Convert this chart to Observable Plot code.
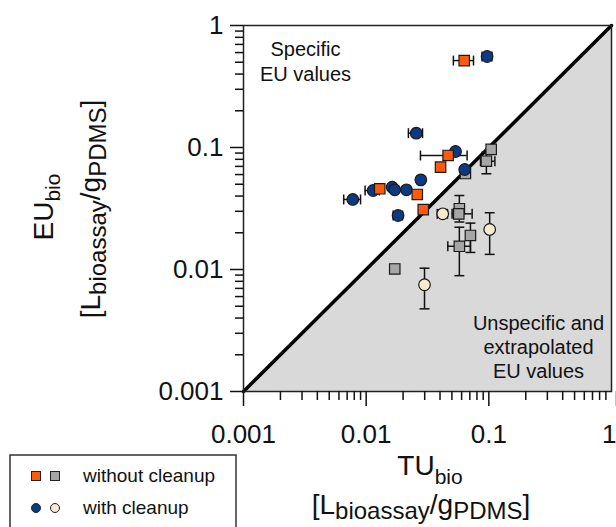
<!DOCTYPE html>
<html><head><meta charset="utf-8">
<script src="https://cdn.jsdelivr.net/npm/d3@7"></script>
<script src="https://cdn.jsdelivr.net/npm/@observablehq/plot@0.6"></script>
<style>body{margin:0;background:#fff;} svg{display:block}</style>
</head><body><div id="chart"></div>
<script>
// group of each point: "woSpec" orange square, "woUns" gray square, "wSpec" blue circle, "wUns" beige circle
const group = ["woSpec","wSpec","wSpec","wSpec","woSpec","woSpec","wSpec","woUns","woUns","woUns",
               "wSpec","wSpec","wSpec","woSpec","wSpec","wSpec","wSpec","woSpec","woSpec","wSpec",
               "wUns","woUns","woUns","woUns","woUns","wUns","woUns","wUns"];
const tu    = [0.063,0.0968,0.0256,0.0535,0.0466,0.0404,0.0636,0.1045,0.0955,0.0644,
               0.0279,0.00778,0.0114,0.0129,0.0163,0.0171,0.0213,0.0261,0.0292,0.0182,
               0.0421,0.0575,0.0569,0.0708,0.0575,0.1016,0.0171,0.0299];
const eu    = [0.516,0.557,0.131,0.0927,0.086,0.069,0.066,0.0964,0.0772,0.0612,
               0.0543,0.0375,0.0444,0.0459,0.0473,0.045,0.045,0.0412,0.031,0.0277,
               0.0286,0.0315,0.0286,0.019,0.0155,0.0213,0.0101,0.0075];
const tuLow  = [0.0514,0.088,0.0221,null,0.0277,null,null,null,0.0855,null,
                null,0.00656,0.0098,null,null,null,null,null,null,0.0166,
                0.038,null,0.0502,null,0.0463,null,null,null];
const tuHigh = [0.075,0.106,0.0288,null,0.0665,null,null,null,0.112,null,
                null,0.009,0.0128,null,null,null,null,null,null,0.0198,
                0.046,null,0.0731,null,0.0708,null,null,null];
const euLow  = [null,null,null,null,null,null,null,null,0.0609,null,
                null,null,null,null,null,null,null,null,null,null,
                null,0.0245,null,0.0138,0.0089,0.0133,null,0.00476];
const euHigh = [null,null,null,null,null,null,null,null,0.0915,null,
                null,null,null,null,null,null,null,null,null,null,
                null,0.0404,null,0.024,0.0222,0.0292,null,0.01025];
const groupOrder = ["woUns","wUns","wSpec","woSpec"];
const groupColor = {woSpec:"#ff5a0a", woUns:"#a6a6a6", wSpec:"#0b3a82", wUns:"#f6ebcf"};
const groupShape = {woSpec:"square", woUns:"square", wSpec:"circle", wUns:"circle"};
const xMajor = [0.001,0.01,0.1,1];
const yMajor = [0.001,0.01,0.1,1];
const legendLabels = ["without cleanup","with cleanup"];
const regionLabels = ["Specific\nEU values","Unspecific and\nextrapolated\nEU values"];
const diag = [0.001,1];

const minor = [];
for (const d of [0.001,0.01,0.1]) for (let k=2;k<=9;k++) minor.push(+(d*k).toPrecision(3));

const pts = tu.map((x,i)=>({x, y:eu[i], g:group[i], xl:tuLow[i], xh:tuHigh[i], yl:euLow[i], yh:euHigh[i]}));
const xErr = pts.filter(d=>d.xl!=null);
const yErr = pts.filter(d=>d.yl!=null);
const vbar = {draw(ctx,size){const h=Math.sqrt(size)/2; ctx.moveTo(0,-h); ctx.lineTo(0,h);}};
const hbar = {draw(ctx,size){const h=Math.sqrt(size)/2; ctx.moveTo(-h,0); ctx.lineTo(h,0);}};
const FONT = "'Liberation Sans', Arial, Helvetica, sans-serif";

const dotMarks = groupOrder.map(gname => Plot.dot(pts.filter(d=>d.g===gname),{
  x:"x", y:"y", symbol:groupShape[gname], fill:groupColor[gname],
  r: groupShape[gname]==="square" ? 5.9 : 5.8, stroke:"#1a1a1a", strokeWidth:1.2}));

const chart = Plot.plot({
  width:616, height:527,
  marginLeft:243, marginRight:5, marginTop:25, marginBottom:136,
  style:{fontFamily:FONT, color:"#111", background:"#fff"},
  x:{type:"log", domain:[0.001,1]},
  y:{type:"log", domain:[0.001,1]},
  marks:[
    Plot.areaY(diag,{x:d=>d, y1:0.001, y2:d=>d, fill:"#d9d9d9"}),
    Plot.line(diag,{x:d=>d, y:d=>d, stroke:"#000", strokeWidth:3.5}),
    Plot.frame({stroke:"#222", strokeWidth:1.5}),
    Plot.axisX(minor,{tickSize:9, tickFormat:()=>"", label:null, strokeWidth:1.5}),
    Plot.axisX(xMajor.slice(0,3),{tickSize:15, tickPadding:18, fontSize:26, tickFormat:d=>String(d), label:null, strokeWidth:1.5}),
    Plot.axisX(xMajor.slice(3),{tickSize:15, tickPadding:18, fontSize:26, tickFormat:d=>String(d), label:null, strokeWidth:1.5, textAnchor:"end", dx:5}),
    Plot.axisY(minor,{tickSize:8, tickFormat:()=>"", label:null, strokeWidth:1.5}),
    Plot.axisY(yMajor,{tickSize:13, tickPadding:7, fontSize:26, tickFormat:d=>String(d), label:null, strokeWidth:1.5}),
    Plot.ruleY(xErr,{y:"y", x1:"xl", x2:"xh", stroke:"#111", strokeWidth:1.5}),
    Plot.dot(xErr,{x:"xl", y:"y", symbol:vbar, r:5.6, stroke:"#111", fill:"none", strokeWidth:1.5}),
    Plot.dot(xErr,{x:"xh", y:"y", symbol:vbar, r:5.6, stroke:"#111", fill:"none", strokeWidth:1.5}),
    Plot.ruleX(yErr,{x:"x", y1:"yl", y2:"yh", stroke:"#111", strokeWidth:1.5}),
    Plot.dot(yErr,{x:"x", y:"yl", symbol:hbar, r:5.6, stroke:"#111", fill:"none", strokeWidth:1.5}),
    Plot.dot(yErr,{x:"x", y:"yh", symbol:hbar, r:5.6, stroke:"#111", fill:"none", strokeWidth:1.5}),
    ...dotMarks,
    Plot.text([regionLabels[0]],{frameAnchor:"top-left", dx:62, dy:13, textAnchor:"middle", lineAnchor:"top", lineHeight:1.25, fontSize:20, fill:"#111"}),
    Plot.text([regionLabels[1]],{frameAnchor:"bottom-right", dx:-73, dy:-79, textAnchor:"middle", lineAnchor:"top", lineHeight:1.2, fontSize:20, fill:"#111"})
  ]
});
document.getElementById("chart").appendChild(chart);

const svg = d3.select(chart);
const g = svg.append("g").attr("font-family",FONT).attr("fill","#111");
// y title
const y1 = g.append("text").attr("transform","translate(53,207) rotate(-90)").attr("text-anchor","middle").attr("font-size",28);
y1.append("tspan").text("EU");
y1.append("tspan").attr("font-size",21).attr("dy",7).text("bio");
const y2 = g.append("text").attr("transform","translate(100,209) rotate(-90)").attr("text-anchor","middle").attr("font-size",28);
y2.append("tspan").text("[L");
y2.append("tspan").attr("font-size",24).attr("dy",6).text("bioassay");
y2.append("tspan").attr("dy",-6).text("/g");
y2.append("tspan").attr("font-size",24).attr("dy",6).text("PDMS");
y2.append("tspan").attr("dy",-6).text("]");
// x title
const x1 = g.append("text").attr("x",430).attr("y",475).attr("text-anchor","middle").attr("font-size",28);
x1.append("tspan").text("TU");
x1.append("tspan").attr("font-size",21).attr("dy",9).text("bio");
const x2 = g.append("text").attr("x",421).attr("y",514).attr("text-anchor","middle").attr("font-size",28);
x2.append("tspan").text("[L");
x2.append("tspan").attr("font-size",24).attr("dy",5).text("bioassay");
x2.append("tspan").attr("dy",-5).text("/g");
x2.append("tspan").attr("font-size",24).attr("dy",5).text("PDMS");
x2.append("tspan").attr("dy",-5).text("]");
// legend
const L = svg.append("g").attr("font-family",FONT).attr("text-anchor","start");
L.append("rect").attr("x",10).attr("y",455).attr("width",226).attr("height",100).attr("fill","none").attr("stroke","#333").attr("stroke-width",1.5);
L.append("rect").attr("x",31.5).attr("y",471.5).attr("width",9).attr("height",9).attr("fill",groupColor.woSpec).attr("stroke","#222");
L.append("rect").attr("x",50.5).attr("y",471.5).attr("width",9).attr("height",9).attr("fill",groupColor.woUns).attr("stroke","#222");
L.append("circle").attr("cx",36).attr("cy",508).attr("r",4.5).attr("fill",groupColor.wSpec).attr("stroke","#222");
L.append("circle").attr("cx",55).attr("cy",508).attr("r",4.5).attr("fill",groupColor.wUns).attr("stroke","#222");
L.append("text").attr("x",83).attr("y",482).attr("font-size",19).attr("fill","#111").attr("text-anchor","start").text(legendLabels[0]);
L.append("text").attr("x",83).attr("y",514).attr("font-size",19).attr("fill","#111").attr("text-anchor","start").text(legendLabels[1]);
</script></body></html>
